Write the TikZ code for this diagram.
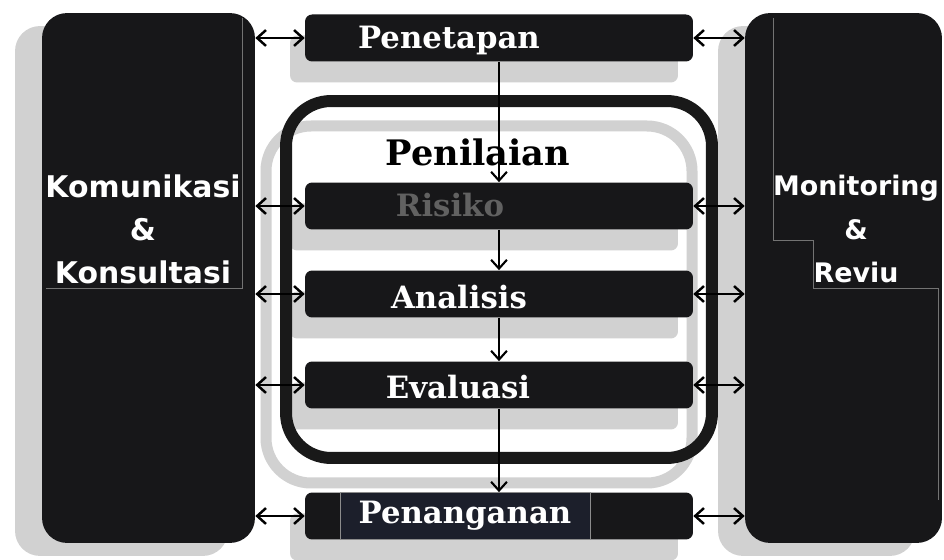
\documentclass[tikz,border=0pt]{standalone}
\usepackage{fontspec}
\newfontfamily\boxserif{DejaVu Serif}
\newfontfamily\boxsans{DejaVu Sans}
\usetikzlibrary{arrows.meta,positioning,shadows}
\definecolor{boxdark}{HTML}{171719}
\definecolor{patchdark}{HTML}{1C1F2B}

\begin{document}
\begin{tikzpicture}[x=0.02cm,y=-0.02cm,>={Straight Barb[length=5pt,width=9pt]},
    side/.style={rectangle,rounded corners=0.5cm,fill=boxdark,minimum height=10.6cm,
        drop shadow={shadow xshift=-0.54cm,shadow yshift=-0.26cm,fill=black!18,opacity=1}},
    sidetext/.style={text=white,align=center,font=\boxsans\bfseries\fontsize{17}{24.5}\selectfont},
    stage/.style={rectangle,rounded corners=4pt,fill=boxdark,minimum width=7.76cm,minimum height=0.94cm,
        drop shadow={shadow xshift=-0.3cm,shadow yshift=-0.42cm,fill=black!18,opacity=1}},
    lbl/.style={text=white,font=\boxserif\bfseries\fontsize{17.5}{20}\selectfont},
    link/.style={<->,line width=1.4pt},
    flow/.style={->,line width=1.2pt}]
    \useasboundingbox (0,0) rectangle (944,560);
    \fill[white] (0,0) rectangle (944,560);

    % shadow of the frame
    \draw[black!18,line width=0.22cm,rounded corners=0.9cm] (266,126) rectangle (692,483);

    % side boxes
    \node[side,minimum width=4.26cm] (kom) at (148.5,278) {};
    \node[side,minimum width=3.94cm] (mon) at (843.5,278) {};
    \draw[black!55,line width=0.3pt] (242,18) -- (242,288) -- (46,288);
    \draw[black!55,line width=0.3pt] (773,18) -- (773,240) -- (813,240) -- (813,288) -- (938,288) -- (938,500);
    \node[sidetext] (komlbl) at (143,229) {Komunikasi\\\&\\Konsultasi};
    \node[sidetext,font=\boxsans\bfseries\fontsize{15.3}{24.5}\selectfont] (monlbl) at (856,229) {Monitoring\\\&\\Reviu};

    % stages
    \node[stage] (pnt) at (499,38) {};
    \node[stage] (rsk) at (499,206) {};
    \node[stage] (ana) at (499,294) {};
    \node[stage] (eva) at (499,385) {};
    \node[stage] (png) at (499,516) {};

    % penilaian frame
    \node[draw=black!90,line width=0.24cm,rounded corners=0.9cm,minimum width=8.52cm,minimum height=7.14cm] (pnl) at (499,279.5) {};
    \node[font=\boxserif\bfseries\fontsize{20}{22}\selectfont] (pnllbl) at (478,152) {Penilaian};

    \node[lbl] (pntlbl) at (449,40) {Penetapan};
    \node[lbl,text=black!62] (rsklbl) at (450,205) {Risiko};
    \node[lbl] (analbl) at (459,297) {Analisis};
    \node[lbl] (evalbl) at (458,387) {Evaluasi};
    \node[lbl,fill=patchdark,draw=black!45,line width=0.4pt,minimum width=5cm,minimum height=0.94cm] (pnglbl) at (465,516) {Penanganan};

    % flow down the middle
    \draw[flow] (pnt) -- (rsk);
    \draw[flow] (rsk) -- (ana);
    \draw[flow] (ana) -- (eva);
    \draw[flow] (eva) -- (png);

    % links to the side boxes
    \foreach \s in {pnt,rsk,ana,eva,png}{
        \draw[link] (kom.east |- \s.west) -- (\s.west);
        \draw[link] (\s.east) -- (mon.west |- \s.east);
    }
\end{tikzpicture}
\end{document}
